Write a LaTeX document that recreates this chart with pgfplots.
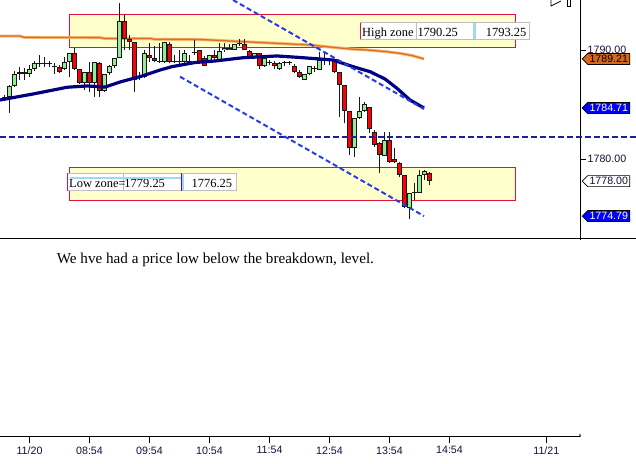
\documentclass[border=0pt]{standalone}
\usepackage{pgfplots}
\usepackage{pgfplotstable}
\pgfplotsset{compat=1.18}
\usepackage{fontspec}
\setmainfont{Liberation Serif}
\newfontfamily\arialfont{Liberation Sans}
\usetikzlibrary{shapes.symbols}

\definecolor{zoneY}{RGB}{255,255,204}
\definecolor{zoneR}{RGB}{220,20,60}
\definecolor{maOrange}{RGB}{222,112,32}
\definecolor{maOrangeL}{RGB}{245,185,120}
\definecolor{maNavy}{RGB}{0,0,128}
\definecolor{dashNavy}{RGB}{30,30,150}
\definecolor{chanBlue}{RGB}{40,60,235}
\definecolor{candG}{RGB}{150,235,150}
\definecolor{candR}{RGB}{255,0,0}
\definecolor{candO}{RGB}{25,25,25}
\definecolor{cellG}{RGB}{190,190,190}
\definecolor{selB}{RGB}{160,215,245}
\definecolor{tagO}{RGB}{210,105,30}
\definecolor{tagB}{RGB}{0,0,255}
\definecolor{tickT}{RGB}{30,10,60}

\pgfplotstableread{
i O H L C
1 1785.53 1785.90 1785.35 1785.76
2 1785.72 1786.82 1784.25 1786.73
3 1786.73 1788.10 1786.63 1787.83
4 1787.83 1788.47 1787.28 1788.01
5 1788.01 1788.38 1787.28 1787.83
6 1787.83 1788.65 1787.55 1788.29
7 1788.29 1789.02 1788.10 1788.84
8 1788.79 1789.57 1788.47 1788.84
9 1788.84 1789.39 1788.47 1788.79
10 1788.79 1789.02 1788.47 1788.84
11 1788.56 1788.84 1787.83 1788.51
12 1788.51 1788.65 1787.92 1788.01
13 1788.29 1789.39 1788.19 1788.93
14 1788.93 1789.75 1787.55 1789.75
15 1789.75 1790.24 1788.19 1788.29
16 1788.29 1788.29 1786.91 1787.00
17 1787.00 1788.01 1786.36 1788.01
18 1788.01 1788.93 1786.18 1787.00
19 1787.00 1788.93 1785.72 1788.93
20 1788.84 1788.93 1785.72 1786.27
21 1786.27 1787.83 1786.18 1787.83
22 1787.92 1788.65 1787.73 1788.56
23 1788.56 1789.29 1788.38 1789.29
24 1789.29 1794.34 1789.29 1792.69
25 1792.69 1793.24 1790.03 1791.04
26 1791.04 1791.40 1790.03 1790.76
27 1790.76 1790.76 1786.18 1787.28
28 1787.46 1788.01 1787.28 1787.55
29 1787.55 1790.03 1787.46 1789.75
30 1789.57 1790.67 1788.93 1789.29
31 1789.29 1790.40 1788.93 1789.02
32 1789.02 1790.67 1788.84 1788.97
33 1788.93 1790.76 1788.84 1790.76
34 1790.58 1790.76 1788.84 1788.93
35 1788.95 1789.57 1788.84 1788.93
36 1788.93 1790.03 1788.65 1788.97
37 1788.93 1790.03 1788.84 1789.75
38 1788.97 1789.57 1788.84 1789.02
39 1789.75 1790.95 1789.57 1789.71
40 1790.03 1790.03 1788.74 1788.93
41 1789.29 1789.48 1788.56 1788.56
42 1788.93 1789.57 1788.84 1789.57
43 1789.57 1790.03 1789.11 1789.29
44 1789.11 1790.70 1789.11 1789.96
45 1790.03 1790.67 1789.84 1790.24
46 1790.24 1790.58 1790.03 1790.03
47 1790.03 1790.58 1790.03 1790.55
48 1790.55 1791.04 1790.40 1790.58
49 1790.55 1791.04 1790.03 1790.03
50 1789.96 1790.03 1789.29 1789.36
51 1789.36 1789.75 1789.20 1789.73
52 1789.73 1789.75 1788.29 1788.56
53 1788.56 1789.29 1788.47 1789.27
54 1788.95 1789.11 1788.65 1788.81
55 1788.81 1789.02 1788.29 1788.56
56 1788.26 1788.93 1788.19 1788.81
57 1788.86 1789.02 1788.56 1788.84
58 1788.84 1789.02 1788.65 1788.86
59 1788.56 1788.74 1787.92 1787.98
60 1787.98 1788.19 1787.46 1787.52
61 1787.28 1787.83 1787.28 1787.80
62 1787.80 1788.56 1787.73 1788.56
63 1788.26 1788.56 1788.01 1788.29
64 1788.19 1789.84 1788.19 1789.11
65 1789.16 1789.75 1788.65 1789.13
66 1789.13 1789.29 1788.65 1789.16
67 1789.18 1789.20 1787.92 1787.98
68 1787.98 1788.01 1783.91 1786.82
69 1786.82 1786.82 1783.30 1784.46
70 1784.46 1784.46 1780.40 1781.01
71 1781.01 1783.79 1780.24 1783.76
72 1783.76 1785.74 1783.70 1784.46
73 1784.46 1785.29 1784.34 1785.05
74 1784.77 1784.83 1782.44 1782.75
75 1782.48 1782.69 1781.16 1781.31
76 1781.47 1781.62 1778.72 1780.40
77 1780.30 1782.53 1780.30 1781.77
78 1781.77 1782.53 1779.69 1779.78
79 1780.00 1781.01 1779.63 1779.78
80 1779.69 1779.78 1778.40 1778.56
81 1778.56 1778.56 1775.51 1775.65
82 1775.51 1776.94 1774.50 1776.94
83 1776.94 1777.80 1776.27 1776.94
84 1776.94 1779.02 1776.88 1778.56
85 1778.56 1779.02 1778.10 1778.95
86 1778.72 1778.86 1777.64 1778.00
}\candles

\tikzset{
  tag/.style={signal, signal to=west, signal pointer angle=90, draw=black,
    line width=0.7bp, inner xsep=1.8bp, inner ysep=0bp, minimum height=11bp,
    font=\arialfont\fontsize{10.7}{12}\selectfont, anchor=west, xshift=1.4bp},
  zonetxt/.style={inner sep=0bp, font=\fontsize{12.5}{14}\selectfont}
}
\pgfplotsset{
  candle/.style={only marks, mark=*, mark size=0pt, mark options={draw=none, fill=none},
    error bars/.cd, y dir=plus, y explicit, error mark=none}
}

\begin{document}
\begin{tikzpicture}
\path[use as bounding box] (0,0) rectangle (636bp,-464bp);

% ---------------- price panel ----------------
\begin{axis}[
  at={(0bp,-238.3bp)}, anchor=south west,
  scale only axis, width=580.3bp, height=238.3bp,
  xmin=0.1, xmax=116.16, ymin=1772.752, ymax=1794.615,
  axis x line=none, axis y line*=right,
  axis line style={-, black, line width=1bp},
  ytick={1780,1790}, yticklabels={1780.00,1790.00},
  tick align=outside, major tick length=6bp,
  tick style={black, line width=1bp},
  yticklabel style={font=\arialfont\fontsize{10.7}{12}\selectfont, text=tickT, inner sep=0bp, anchor=west, xshift=1.2bp},
  clip=false,
]
% zones
\addplot[fill=zoneY, draw=zoneR, line width=1bp] coordinates {(13.96,1790.25) (103.16,1790.25) (103.16,1793.25) (13.96,1793.25)} -- cycle;
\addplot[fill=zoneY, draw=zoneR, line width=1bp] coordinates {(13.96,1776.25) (103.16,1776.25) (103.16,1779.25) (13.96,1779.25)} -- cycle;
% orange MA
\addplot[maOrangeL, line width=3bp, line join=round] coordinates {(0.1,1791.31) (4.1,1791.31) (4.9,1791.19) (20.1,1791.16) (21.1,1791.08) (30.1,1791.08) (31.1,1791.01) (38.5,1791.01) (42.1,1790.95) (48.7,1790.79) (55.5,1790.64) (60.1,1790.53) (62.1,1790.49) (66.1,1790.30) (70.1,1790.12) (73.5,1790.03) (77.1,1789.89) (80.1,1789.72) (82.5,1789.52) (84.9,1789.21)};
\addplot[maOrange, line width=1.3bp, line join=round] coordinates {(0.1,1791.31) (4.1,1791.31) (4.9,1791.19) (20.1,1791.16) (21.1,1791.08) (30.1,1791.08) (31.1,1791.01) (38.5,1791.01) (42.1,1790.95) (48.7,1790.79) (55.5,1790.64) (60.1,1790.53) (62.1,1790.49) (66.1,1790.30) (70.1,1790.12) (73.5,1790.03) (77.1,1789.89) (80.1,1789.72) (82.5,1789.52) (84.9,1789.21)};
% candles: wicks
\addplot[candle, error bar style={line width=1bp, draw=candO}]
  table[x=i, y=L, y error expr=\thisrow{H}-\thisrow{L}] {\candles};
% candle body outlines
\addplot[candle, error bar style={line width=4.4bp, draw=candO}]
  table[x=i, y expr={min(\thisrow{O},\thisrow{C})}, y error expr={max(abs(\thisrow{O}-\thisrow{C}),0.09)}] {\candles};
% green bodies
\addplot[candle, error bar style={line width=2.4bp, draw=candG}]
  table[x=i, y expr={min(\thisrow{O},\thisrow{C})+0.0917}, y error expr={(\thisrow{C}>\thisrow{O})*max(\thisrow{C}-\thisrow{O}-0.1834,0)}] {\candles};
% red bodies
\addplot[candle, error bar style={line width=2.4bp, draw=candR}]
  table[x=i, y expr={min(\thisrow{O},\thisrow{C})+0.0917}, y error expr={(\thisrow{O}>\thisrow{C})*max(\thisrow{O}-\thisrow{C}-0.1834,0)}] {\candles};
% navy MA
\addplot[maNavy, line width=3.2bp, line join=round] coordinates {(0.1,1785.44) (6.7,1785.99) (13.5,1786.61) (17.5,1786.73) (21.1,1786.63) (24.1,1787.09) (28.5,1787.64) (32.1,1788.19) (34.5,1788.50) (39.1,1788.88) (43.1,1789.02) (48.7,1789.32) (55.5,1789.48) (60.1,1789.34) (64.1,1789.20) (66.7,1789.11) (70.7,1788.50) (74.1,1788.04) (77.1,1787.37) (79.5,1786.51) (82.1,1785.44) (84.9,1784.71)};
% horizontal breakdown level
\addplot[dashNavy, line width=2bp, dash pattern=on 6bp off 3bp] coordinates {(0.1,1782.05) (127.3,1782.05)};
% channel
\addplot[chanBlue, line width=2bp, dash pattern=on 5bp off 3bp] coordinates {(46.7,1794.615) (84.9,1784.615)};
\addplot[chanBlue, line width=2bp, dash pattern=on 5bp off 3bp] coordinates {(36.1,1787.58) (84.9,1774.79)};
% price tags
\node[tag, fill=tagO, text=black] at (axis cs:116.16,1789.21) {1789.21};
\node[tag, fill=tagB, text=white] at (axis cs:116.16,1784.71) {1784.71};
\node[tag, fill=white, text=tickT] at (axis cs:116.16,1778.00) {1778.00};
\node[tag, fill=tagB, text=white] at (axis cs:116.16,1774.79) {1774.79};
\end{axis}

% ---------------- lower panel ----------------
\begin{axis}[
  at={(0bp,-436.7bp)}, anchor=south west,
  scale only axis, width=580.3bp, height=198.4bp,
  xmin=0.1, xmax=116.16, ymin=0, ymax=1,
  axis y line=none, axis x line*=bottom,
  axis line style={-, black, line width=1bp},
  xtick={6,18,30,42,54,66,78,90,109.36},
  xticklabels={11/20,08:54,09:54,10:54,11:54,12:54,13:54,14:54,11/21},
  tick align=outside, major tick length=6.7bp,
  tick style={black, line width=1bp},
  xticklabel style={font=\arialfont\fontsize{10.7}{12}\selectfont, text=tickT, inner sep=0bp, anchor=north, yshift=-3bp},
  clip=false,
]
\node[anchor=base west, inner sep=0bp, font=\fontsize{15.2}{17}\selectfont] at (rel axis cs:0.0977,0.874) {We hve had a price low below the breakdown, level.};
\draw[black, line width=1bp] (rel axis cs:1,0) -- ++(0,2.7bp);
\end{axis}

% ---------------- frame pieces and zone labels ----------------
\begin{scope}[x=1bp, y=-1bp]
\draw[black, line width=1bp] (0,238.3) -- (636,238.3);
\draw[black, line width=1bp] (580.3,238) -- (580.3,240);
% high zone label
\fill[white] (360.7,22.7) rectangle (529.3,39.3);
\draw[cellG, line width=1bp] (360.7,22.7) rectangle (529.3,39.3);
\draw[cellG, line width=1bp] (416,22.7) -- (416,39.3);
\fill[selB] (473.3,22.7) rectangle (476,39.3);
\draw[zoneR, line width=1bp] (360.7,22.7) -- (360.7,39.3);
\node[zonetxt, anchor=base west] at (362,36) {High zone};
\node[zonetxt, anchor=base west] at (417.3,36) {1790.25};
\node[zonetxt, anchor=base east] at (526.5,36) {1793.25};
% low zone label
\fill[white] (67.7,173.3) rectangle (236.7,190.7);
\draw[cellG, line width=1bp] (67.7,173.3) rectangle (236.7,190.7);
\draw[cellG, line width=1bp] (123.3,173.3) -- (123.3,190.7);
\node[zonetxt, anchor=base west] at (69,187.3) {Low zone=};
\node[zonetxt, anchor=base west] at (124.3,187.3) {1779.25};
\node[zonetxt, anchor=base east] at (232.3,187.3) {1776.25};
\draw[selB, line width=2bp] (70,178.4) -- (182.7,178.4);
\fill[selB] (181.7,173.3) rectangle (183.7,190.7);
\draw[violet, line width=0.6bp] (181.7,173.3) -- (181.7,190.7);
\draw[zoneR, line width=1bp] (67.7,173.3) -- (67.7,190.7);
% tool icon at the top right
\draw[black, line width=0.8bp] (551,-1) -- (551,6) -- (561,1);
\draw[black, line width=0.8bp] (567.5,-1) rectangle (570.5,6);
\end{scope}
\end{tikzpicture}
\end{document}
